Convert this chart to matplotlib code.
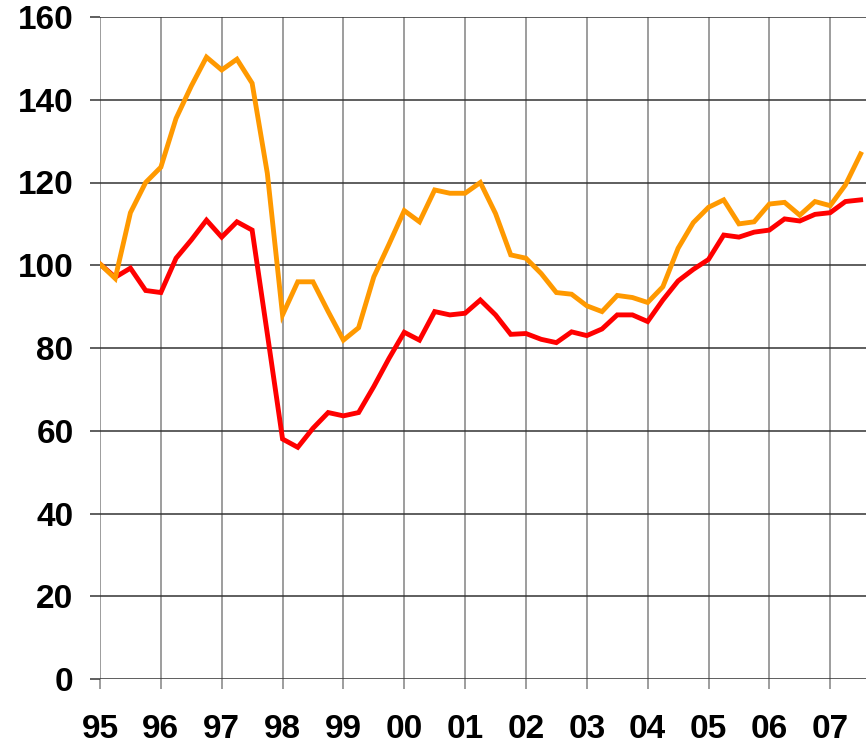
import matplotlib
matplotlib.use("Agg")
import matplotlib.pyplot as plt
import numpy as np

# Quarterly data, 1995Q1 .. 2007Q3
start_year = 95
orange_vals = [100.3, 96.8, 112.7, 120.0, 123.7, 135.5, 143.3, 150.3, 147.2, 149.8,
               144.0, 122.2, 88.0, 96.0, 96.0, 88.8, 81.9, 84.9, 97.2, 105.1,
               113.2, 110.5, 118.2, 117.4, 117.4, 120.0, 112.5, 102.5, 101.7, 98.0,
               93.4, 93.0, 90.2, 88.8, 92.7, 92.2, 91.0, 94.8, 104.1, 110.3,
               114.0, 115.8, 110.0, 110.5, 114.8, 115.2, 112.1, 115.4, 114.4, 119.4,
               126.9]
red_vals = [100.3, 97.1, 99.3, 93.9, 93.4, 101.7, 106.1, 110.9, 106.8, 110.5,
            108.5, 83.4, 58.0, 56.0, 60.6, 64.4, 63.6, 64.4, 70.7, 77.5,
            83.8, 81.9, 88.8, 88.0, 88.4, 91.6, 88.0, 83.3, 83.5, 82.1,
            81.3, 83.9, 83.0, 84.6, 88.0, 88.0, 86.4, 91.6, 96.2, 99.0,
            101.4, 107.3, 106.8, 108.0, 108.5, 111.2, 110.7, 112.3, 112.7, 115.4,
            115.8]
year_ticks = list(range(95, 108))
tick_labels = [f"{y % 100:02d}" for y in year_ticks]
y_ticks = [0, 20, 40, 60, 80, 100, 120, 140, 160]

x = start_year + 0.25 * np.arange(len(orange_vals))

plt.rcParams['font.family'] = ['Liberation Sans', 'DejaVu Sans']

fig = plt.figure(figsize=(8.66, 7.52), dpi=100)
ax = fig.add_axes([100/866, 1 - 679/752, 1 - 100/866, (679 - 17)/752])

ax.plot(x, red_vals, color='#FF0000', lw=3.5, solid_joinstyle='miter', zorder=3)
ax.plot(x, orange_vals, color='#FF9900', lw=3.5, solid_joinstyle='miter', zorder=4)

ax.set_xlim(95, 95 + 766/60.85)
ax.set_ylim(0, 160)
ax.set_xticks(year_ticks)
ax.set_xticklabels(tick_labels)
ax.set_yticks(y_ticks)

for s in ax.spines.values():
    s.set_visible(False)

ax.grid(axis='x', color='#8c8c8c', lw=1.2, zorder=1)
ax.grid(axis='y', color='#333333', lw=1.1, zorder=1)
ax.set_axisbelow(True)

ax.tick_params(axis='x', length=7, width=1.2, color='#8c8c8c', pad=18,
               labelsize=24)
ax.tick_params(axis='y', length=7, width=1.1, color='#333333', pad=12,
               labelsize=24)
for lab in ax.get_xticklabels() + ax.get_yticklabels():
    lab.set_fontweight('bold')

fig.savefig("out.png", dpi=100)
